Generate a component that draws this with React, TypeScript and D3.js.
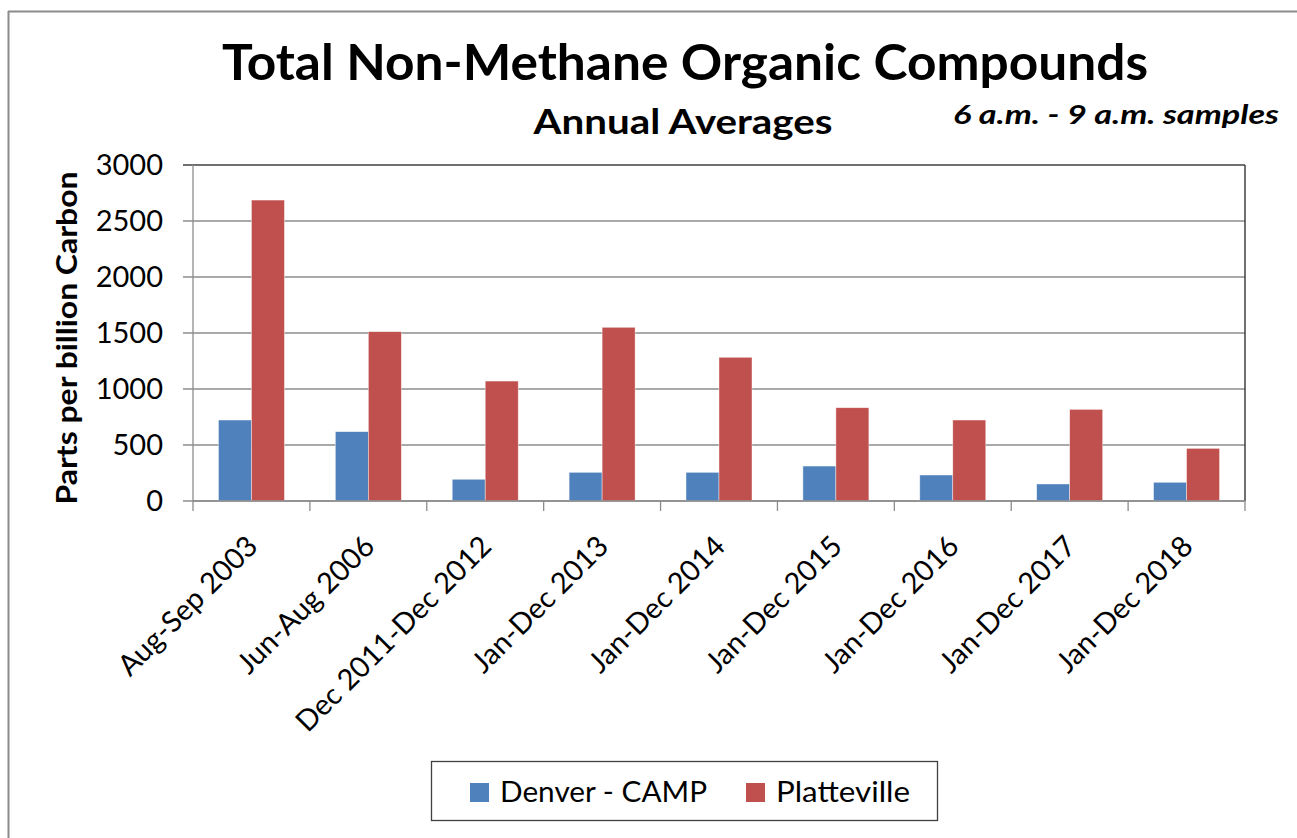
import React from 'react';
import { scaleBand, scaleLinear } from 'd3';

const categories = [
  'Aug-Sep 2003',
  'Jun-Aug 2006',
  'Dec 2011-Dec 2012',
  'Jan-Dec 2013',
  'Jan-Dec 2014',
  'Jan-Dec 2015',
  'Jan-Dec 2016',
  'Jan-Dec 2017',
  'Jan-Dec 2018',
];
const denver = [723, 619, 194, 256, 256, 312, 232, 152, 167];
const platteville = [2687, 1512, 1071, 1551, 1283, 833, 723, 818, 470];
const yTicks = [0, 500, 1000, 1500, 2000, 2500, 3000];
const seriesNames = ['Denver - CAMP', 'Platteville'];
const colors = ['#4F81BD', '#C0504D'];

const font = 'Lato, "Open Sans", sans-serif';

export default function App() {
  const width = 1297;
  const height = 838;
  const left = 193;
  const right = 1245;
  const top = 165;
  const bottom = 501;

  const x = scaleBand<string>().domain(categories).range([left, right]);
  const y = scaleLinear().domain([0, 3000]).range([bottom, top]);
  const barW = 33;

  const bars = categories.map((c, i) => {
    const cx = x(c)! + x.bandwidth() / 2;
    return (
      <g key={c}>
        {[denver[i], platteville[i]].map((v, s) => (
          <rect
            key={s}
            x={cx - barW + s * barW}
            y={y(v)}
            width={barW}
            height={y(0) - y(v)}
            fill={colors[s]}
            stroke="#fff"
            strokeOpacity={0.6}
            strokeWidth={0.7}
          />
        ))}
      </g>
    );
  });

  return (
    <svg width={width} height={height} style={{ position: 'absolute', left: 0, top: 0 }}>
      <rect x={0} y={0} width={width} height={height} fill="#fff" />
      {/* outer frame */}
      <line x1={8.5} y1={11} x2={8.5} y2={height} stroke="#8c8c8c" strokeWidth={2} />
      <line x1={8} y1={11.5} x2={width} y2={11.5} stroke="#8c8c8c" strokeWidth={2} />

      {/* titles */}
      <text x={685} y={80} textAnchor="middle" fontFamily={font} fontWeight="bold" fontSize={50}
        textLength={926} lengthAdjust="spacingAndGlyphs">
        Total Non-Methane Organic Compounds
      </text>
      <text x={683} y={134} textAnchor="middle" fontFamily={font} fontWeight="bold" fontSize={34}
        textLength={299} lengthAdjust="spacingAndGlyphs">
        Annual Averages
      </text>
      <text x={1279} y={124} textAnchor="end" fontFamily={font} fontWeight="bold" fontStyle="italic" fontSize={27}
        textLength={326} lengthAdjust="spacingAndGlyphs">
        6 a.m. - 9 a.m. samples
      </text>

      {/* gridlines */}
      {yTicks.map(t => (
        <g key={t}>
          <line x1={183} x2={right} y1={y(t)} y2={y(t)} stroke={t === 3000 ? '#404040' : '#8c8c8c'} strokeWidth={1.3} />
          <text x={163} y={y(t) + 10} textAnchor="end" fontFamily={font} fontSize={29}>{t}</text>
        </g>
      ))}
      <line x1={right} x2={right} y1={top} y2={bottom} stroke="#404040" strokeWidth={1.5} />
      <line x1={left} x2={left} y1={top} y2={bottom + 10} stroke="#8c8c8c" strokeWidth={1.3} />

      {bars}

      {/* x axis */}
      <line x1={left} x2={right} y1={bottom} y2={bottom} stroke="#8c8c8c" strokeWidth={1.3} />
      {categories.map(c => (
        <line key={c} x1={x(c)! + x.bandwidth()} x2={x(c)! + x.bandwidth()} y1={bottom} y2={bottom + 10}
          stroke="#8c8c8c" strokeWidth={1.3} />
      ))}
      {categories.map(c => {
        const cx = x(c)! + x.bandwidth() / 2 + 8;
        const ty = 548;
        return (
          <text key={c} x={cx} y={ty} textAnchor="end" fontFamily={font} fontSize={29}
            transform={`rotate(-45,${cx},${ty})`}>
            {c}
          </text>
        );
      })}

      {/* y title */}
      <text transform="translate(77,338) rotate(-90)" textAnchor="middle" fontFamily={font} fontWeight="bold" fontSize={28}
        textLength={333} lengthAdjust="spacingAndGlyphs">
        Parts per billion Carbon
      </text>

      {/* legend */}
      <rect x={431.5} y={761.5} width={506} height={59} fill="none" stroke="#404040" strokeWidth={1.3} />
      {seriesNames.map((n, i) => {
        const lx = i === 0 ? 470 : 746;
        return (
          <g key={n}>
            <rect x={lx} y={783} width={19} height={19} fill={colors[i]} />
            <text x={lx + 30} y={802} fontFamily={font} fontSize={29}
              textLength={i === 0 ? 207 : 134} lengthAdjust="spacingAndGlyphs">{n}</text>
          </g>
        );
      })}
    </svg>
  );
}
